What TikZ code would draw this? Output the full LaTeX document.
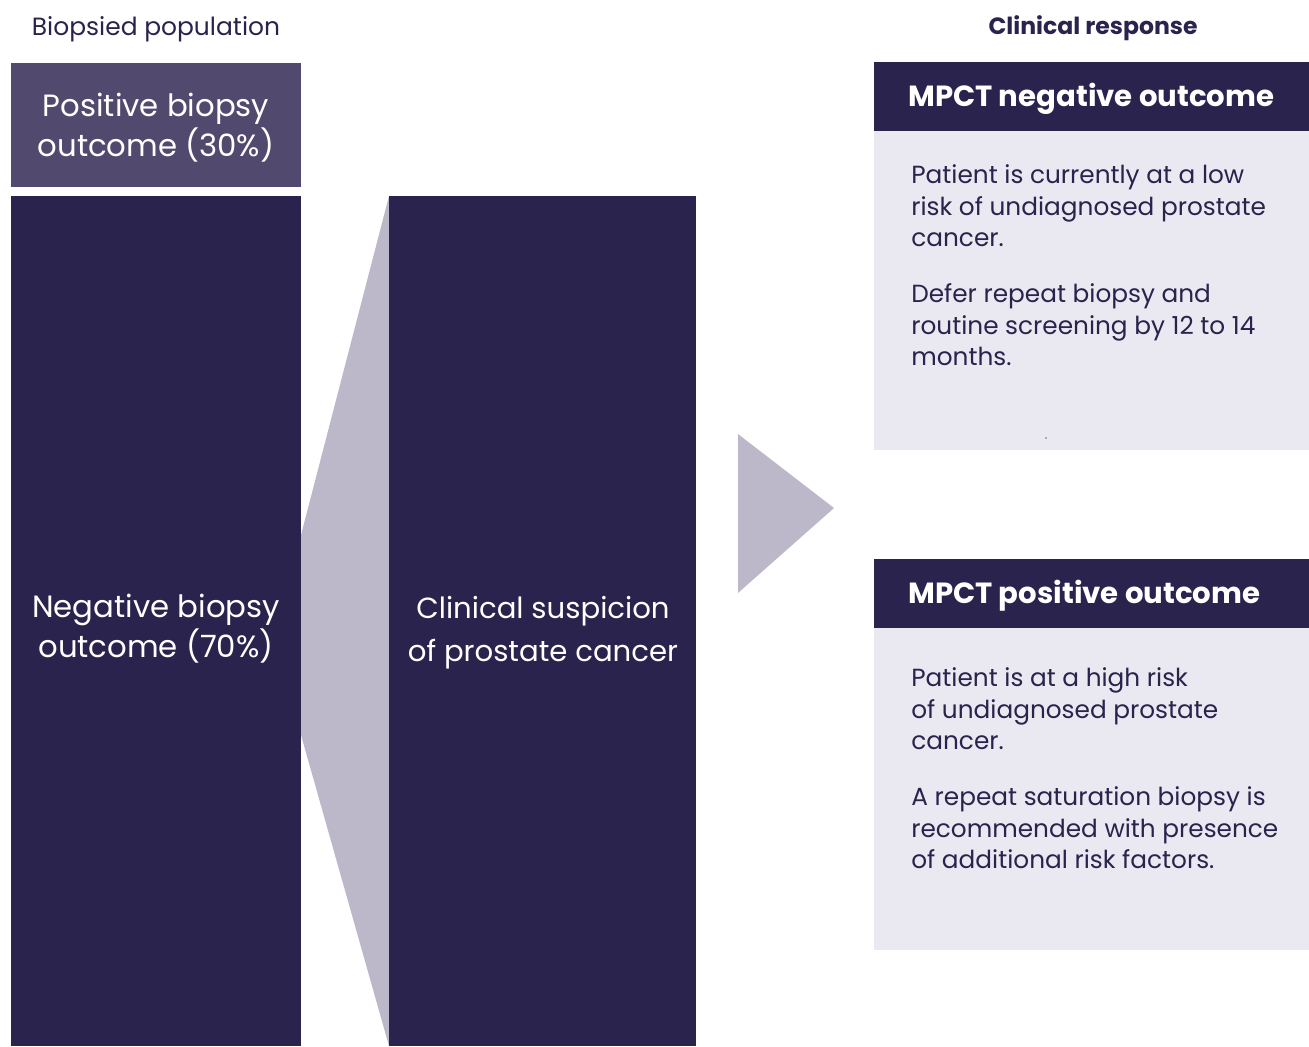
\documentclass[tikz,border=0pt]{standalone}
\usepackage{fontspec}
\setmainfont{Poppins}
\usepackage{tikz}

\definecolor{navy}{HTML}{29234D}
\definecolor{plum}{HTML}{524A6E}
\definecolor{lilac}{HTML}{BCB8CA}
\definecolor{mist}{HTML}{EAE8F0}

\begin{document}
\begin{tikzpicture}[x=0.02cm,y=-0.02cm,
	bar/.style={anchor=north west,inner sep=0pt,fill=navy,text=white},
	barlabel/.style={text=white,align=center,font=\fontsize{17.5}{22.6}\selectfont},
	head/.style={bar,minimum width=8.7cm,minimum height=1.38cm},
	headtext/.style={anchor=west,text=white,inner sep=0pt,font=\fontsize{16.6}{18}\selectfont\bfseries},
	panel/.style={anchor=north west,inner sep=0pt,fill=mist,minimum width=8.7cm},
	note/.style={anchor=north west,inner sep=0pt,text=navy,align=left,font=\fontsize{14.1}{18.1}\selectfont}]
	% page frame
	\useasboundingbox (0,0) rectangle (1309,1046);
	% wedge between the two columns - must be drawn before the bars!
	\fill[lilac] (301,535) -- (389,196) -- (389,1046) -- (301,735) -- cycle;
	% column titles
	\node[text=navy,font=\fontsize{14.2}{16}\selectfont] (lefttitle) at (156,29) {Biopsied population};
	\node[text=navy,font=\fontsize{13.4}{16}\selectfont\bfseries] (righttitle) at (1093,28) {Clinical response};
	% the biopsied column
	\node[bar,fill=plum,minimum width=5.8cm,minimum height=2.48cm] (posbox) at (11,63) {};
	\node[barlabel] (poslabel) at (156,128) {Positive biopsy\\outcome (30\%)};
	\node[bar,minimum width=5.8cm,minimum height=17cm] (negbox) at (11,196) {};
	\node[barlabel] (neglabel) at (156,629) {Negative biopsy\\outcome (70\%)};
	% the suspicion column
	\node[bar,minimum width=6.14cm,minimum height=17cm] (suspbox) at (389,196) {};
	\node[barlabel,font=\fontsize{16.6}{24.4}\selectfont] (susplabel) at (543,633) {Clinical suspicion\\of prostate cancer};
	% arrow to the responses
	\fill[lilac] (738,434) -- (834,508) -- (738,593) -- cycle;
	% negative outcome
	\node[head] (neghead) at (874,62) {};
	\node[headtext] (negtitle) at (908,99) {MPCT negative outcome};
	\node[panel,minimum height=6.38cm] (negpanel) at (874,131) {};
	\node[note] (negnote1) at (911,164) {Patient is currently at a low\\risk of undiagnosed prostate\\cancer.};
	\node[note] (negnote2) at (911,283) {Defer repeat biopsy and\\routine screening by 12 to 14\\months.};
	\fill[navy!70] (1046,438) circle (0.8);
	% positive outcome
	\node[head] (poshead) at (874,559) {};
	\node[headtext] (postitle) at (908,596) {MPCT positive outcome};
	\node[panel,minimum height=6.44cm] (pospanel) at (874,628) {};
	\node[note] (posnote1) at (911,667) {Patient is at a high risk\\of undiagnosed prostate\\cancer.};
	\node[note] (posnote2) at (911,786) {A repeat saturation biopsy is\\recommended with presence\\of additional risk factors.};
\end{tikzpicture}
\end{document}
